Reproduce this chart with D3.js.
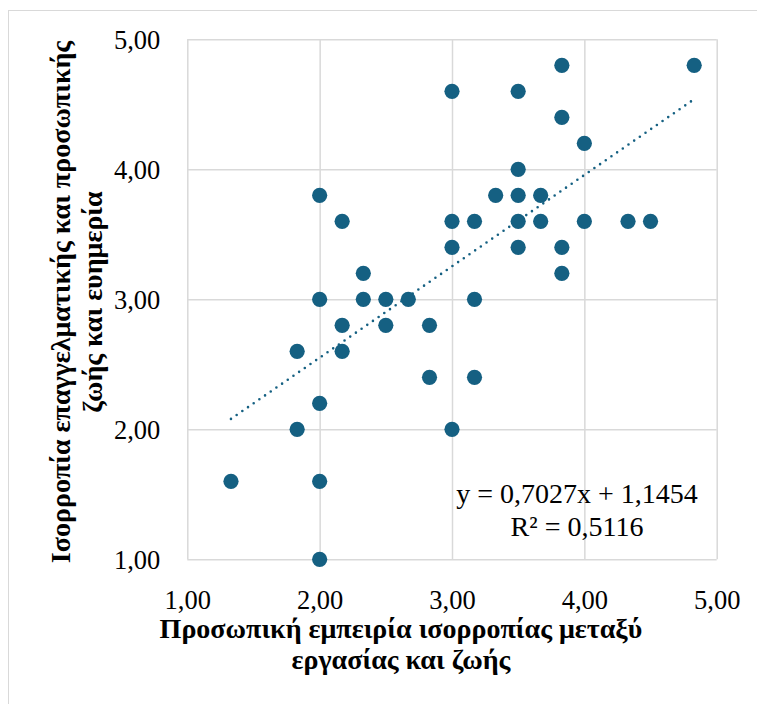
<!DOCTYPE html>
<html><head><meta charset="utf-8">
<script src="https://cdn.jsdelivr.net/npm/d3@7"></script>
<style>
html,body{margin:0;padding:0;background:#fff;}
svg{display:block;}
svg text{font-family:"Liberation Serif","Times New Roman","DejaVu Serif",serif;}
</style></head>
<body>
<svg id="chart" width="757" height="704"></svg>
<script>
// ---- data ----
const xValues = [1.33, 1.83, 1.83, 2.00, 2.00, 2.00, 2.00, 2.00, 2.17, 2.17, 2.17, 2.33, 2.33,
  2.50, 2.50, 2.67, 2.83, 2.83, 3.00, 3.00, 3.00, 3.00, 3.17, 3.17, 3.17, 3.33,
  3.50, 3.50, 3.50, 3.50, 3.50, 3.67, 3.67, 3.83, 3.83, 3.83, 3.83, 4.00, 4.00,
  4.33, 4.50, 4.83];
const yValues = [1.6, 2.6, 2.0, 3.8, 3.0, 2.2, 1.6, 1.0, 3.6, 2.8, 2.6, 3.2, 3.0,
  3.0, 2.8, 3.0, 2.8, 2.4, 4.6, 3.6, 3.4, 2.0, 3.6, 3.0, 2.4, 3.8,
  4.6, 4.0, 3.8, 3.6, 3.4, 3.8, 3.6, 4.8, 4.4, 3.4, 3.2, 4.2, 3.6,
  3.6, 3.6, 4.8];
const trendSlope = 0.7027;
const trendIntercept = 1.1454;
const rSquared = 0.5116;
const xTicks = [1, 2, 3, 4, 5];
const yTicks = [1, 2, 3, 4, 5];
const xTitleLines = ["Προσωπική εμπειρία ισορροπίας μεταξύ", "εργασίας και ζωής"];
const yTitleLines = ["Ισορροπία επαγγελματικής και προσωπικής", "ζωής και ευημερία"];

// ---- layout ----
const color = "#156082";
const gridColor = "#d9d9d9";
const pLeft = 187.3, pRight = 716.7, pTop = 39.3, pBottom = 559.3;

const loc = d3.formatLocale({decimal: ",", thousands: ".", grouping: [3], currency: ["", "€"]});
const fmt = loc.format(".2f");
const fmt4 = loc.format(".4f");

const svg = d3.select("#chart");
svg.append("rect").attr("x", 8.5).attr("y", 10.5).attr("width", 800).attr("height", 800)
  .attr("fill", "#fff").attr("stroke", gridColor).attr("stroke-width", 1);

const x = d3.scaleLinear().domain([1, 5]).range([pLeft, pRight]);
const y = d3.scaleLinear().domain([1, 5]).range([pBottom, pTop]);

// grid + axes
const gx = svg.append("g").attr("transform", `translate(0,${pBottom})`)
  .call(d3.axisBottom(x).tickValues(xTicks).tickFormat(fmt).tickSize(-(pBottom - pTop)).tickPadding(31));
const gy = svg.append("g").attr("transform", `translate(${pLeft},0)`)
  .call(d3.axisLeft(y).tickValues(yTicks).tickFormat(fmt).tickSize(-(pRight - pLeft)).tickPadding(27));
[gx, gy].forEach(g => {
  g.attr("font-family", null).attr("font-size", null);
  g.select(".domain").remove();
  g.selectAll(".tick line").attr("stroke", gridColor).attr("stroke-width", 1.5);
  g.selectAll(".tick text").attr("fill", "#000").style("font-size", "26.5px");
});
gx.selectAll(".tick text").attr("dy", "0.71em");
gy.selectAll(".tick text").attr("dy", "0.33em");

// trend line
const xr = d3.extent(xValues);
svg.append("line")
  .attr("x1", x(xr[0])).attr("y1", y(trendSlope * xr[0] + trendIntercept))
  .attr("x2", x(xr[1])).attr("y2", y(trendSlope * xr[1] + trendIntercept))
  .attr("stroke", color).attr("stroke-width", 2.6).attr("stroke-linecap", "round")
  .attr("stroke-dasharray", "0 6.9");

// points
svg.append("g").selectAll("circle").data(xValues.map((v, i) => [v, yValues[i]]))
  .join("circle")
  .attr("cx", d => x(d[0])).attr("cy", d => y(d[1])).attr("r", 7.6)
  .attr("fill", color);

// equation
const eq = svg.append("text").attr("text-anchor", "middle")
  .style("font-size", "28px").attr("fill", "#000");
eq.append("tspan").attr("x", 577).attr("y", 503)
  .text(`y = ${fmt4(trendSlope)}x + ${fmt4(trendIntercept)}`);
eq.append("tspan").attr("x", 577).attr("y", 535.5)
  .text(`R² = ${fmt4(rSquared)}`);

// x title
const xt = svg.append("text").attr("text-anchor", "middle")
  .style("font-size", "28px").style("font-weight", "bold").attr("fill", "#000");
xTitleLines.forEach((t, i) => xt.append("tspan").attr("x", 401).attr("y", 638 + i * 31).text(t));

// y title
const yt = svg.append("text").attr("text-anchor", "middle")
  .attr("transform", "translate(0,302) rotate(-90)")
  .style("font-size", "28px").style("font-weight", "bold").attr("fill", "#000");
yTitleLines.forEach((t, i) => yt.append("tspan").attr("x", 0).attr("y", 70 + i * 32).text(t));
</script>
</body></html>
